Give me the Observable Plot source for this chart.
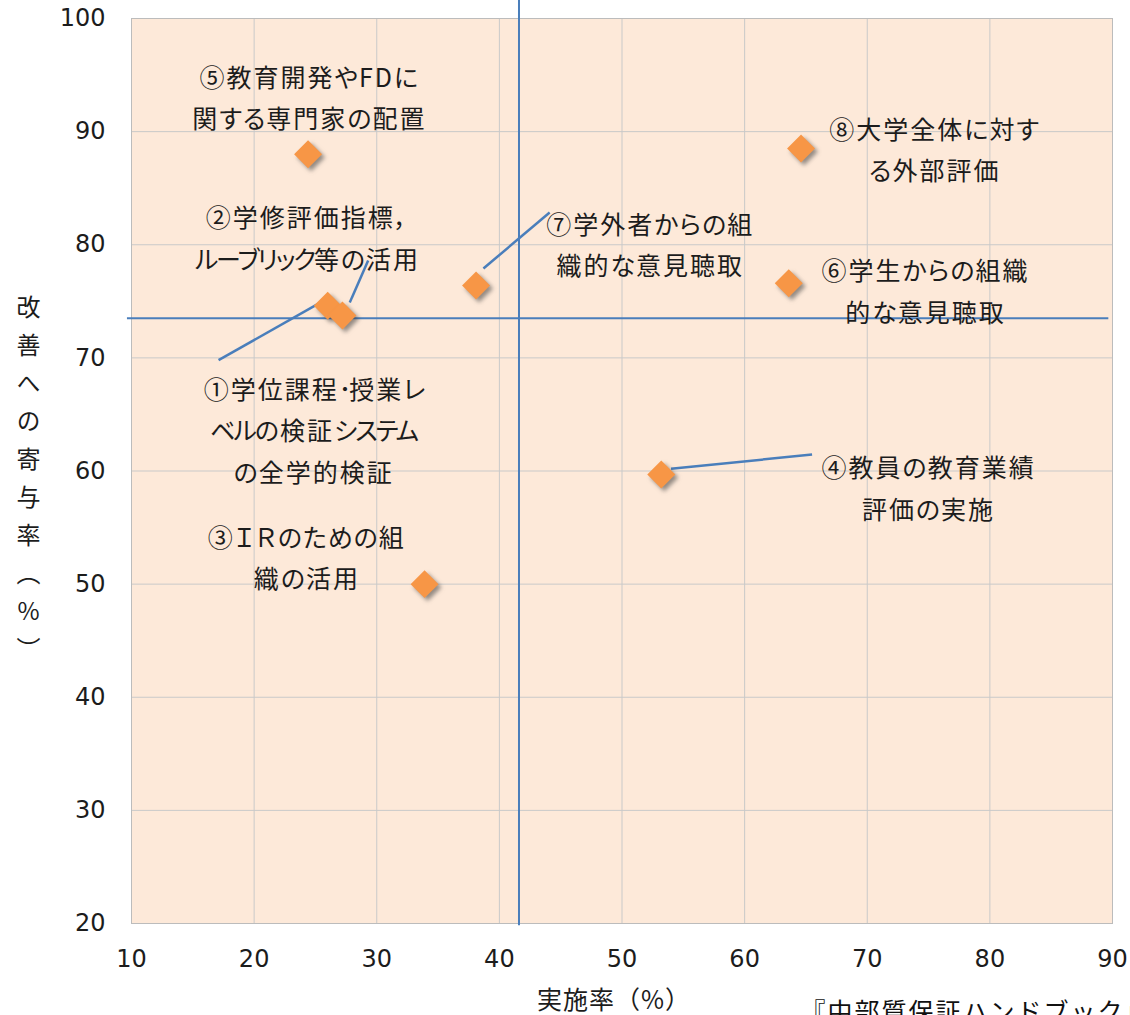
<!DOCTYPE html>
<html>
<head>
<meta charset="utf-8">
<script src="https://cdn.jsdelivr.net/npm/d3@7"></script>
<script src="https://cdn.jsdelivr.net/npm/@observablehq/plot@0.6"></script>
<style>
  body { margin: 0; background: #ffffff; overflow: hidden; }
  #chart svg { display: block; }
</style>
</head>
<body>
<div id="chart"></div>
<script>
// Measures: implementation rate (x, %) vs. contribution to improvement (y, %)
const itemIds = ["①", "②", "③", "④", "⑤", "⑥", "⑦", "⑧"];
const implementationRate = [26.0, 27.2, 33.9, 53.2, 24.4, 63.6, 38.1, 64.6];
const contributionRate   = [74.6, 73.75, 50.0, 59.7, 88.0, 76.6, 76.4, 88.5];

// Label text and the data position of each label's centre
const itemLabels = [
  "①学位課程･授業レ\nベルの検証システム\nの全学的検証",
  "②学修評価指標，\nルーブリック等の活用",
  "③ＩＲのための組\n織の活用",
  "④教員の教育業績\n評価の実施",
  "⑤教育開発やFDに\n関する専門家の配置",
  "⑥学生からの組織\n的な意見聴取",
  "⑦学外者からの組\n織的な意見聴取",
  "⑧大学全体に対す\nる外部評価"
];
const labelX = [24.85, 24.35, 24.3, 75.0, 24.5, 74.75, 52.3, 75.5];
const labelY = [63.9, 80.9, 52.65, 58.8, 93.3, 76.2, 80.3, 88.7];

// Leader lines from a label to its point
const leaderIds = ["①", "②", "⑦", "④"];
const leaderX1 = [17.1, 29.3, 44.1, 65.5];
const leaderY1 = [69.8, 78.6, 82.85, 61.45];
const leaderX2 = [25.25, 27.8, 38.7, 54.0];
const leaderY2 = [74.8, 74.9, 77.9, 60.2];

// Reference lines (average implementation / contribution)
const refX = 41.6;
const refY = 73.5;

// Axis ticks and titles
const xTicks = [10, 20, 30, 40, 50, 60, 70, 80, 90];
const yTicks = [20, 30, 40, 50, 60, 70, 80, 90, 100];
const xTitle = "実施率（%）";
const yTitle = "改善への寄与率（%）";
const caption = "『中部質保証ハンドブック』";

const points = itemIds.map((id, i) => ({id, x: implementationRate[i], y: contributionRate[i]}));
const labelRows = itemIds.map((id, i) => ({id, text: itemLabels[i], x: labelX[i], y: labelY[i]}));
const leaders = leaderIds.map((id, i) => ({id, x1: leaderX1[i], y1: leaderY1[i], x2: leaderX2[i], y2: leaderY2[i]}));

const blue = "#4a7ebb";
const orange = "#f79646";
const ink = "#1c1c1c";
const jpFont = "'Noto Sans CJK JP', 'Noto Sans', sans-serif";

const chart = Plot.plot({
  width: 1130,
  height: 1015,
  marginLeft: 131,
  marginRight: 18,
  marginTop: 18,
  marginBottom: 92,
  style: {fontFamily: "'DejaVu Sans', Verdana, sans-serif", fontSize: "24px", color: ink, background: "#ffffff"},
  x: {domain: [10, 90]},
  y: {domain: [20, 100]},
  marks: [
    Plot.frame({fill: "#fde9d9", stroke: null}),
    Plot.gridX(xTicks, {stroke: "#c9c9c9", strokeOpacity: 1}),
    Plot.gridY(yTicks, {stroke: "#c9c9c9", strokeOpacity: 1}),
    Plot.frame({stroke: "#bcbcbc"}),
    Plot.axisX({ticks: xTicks, tickSize: 0, tickPadding: 26, label: null, fontSize: 24}),
    Plot.axisY({ticks: yTicks, tickSize: 0, tickPadding: 26, label: null, fontSize: 24}),
    Plot.ruleX([refX], {y1: 19.8, y2: 101.6, stroke: blue, strokeWidth: 2}),
    Plot.ruleY([refY], {x1: 9.67, x2: 89.7, stroke: blue, strokeWidth: 2}),
    Plot.link(leaders, {x1: "x1", y1: "y1", x2: "x2", y2: "y2", stroke: blue, strokeWidth: 2.5}),
    Plot.dot(points, {x: "x", y: "y", symbol: "diamond2", r: 12.6, fill: orange, stroke: null}),
    Plot.text(labelRows, {
      x: "x", y: "y", text: "text",
      fontSize: 25, lineHeight: 1.66, lineAnchor: "middle", textAnchor: "middle",
      fill: ink, fontFamily: jpFont
    }),
    Plot.text([xTitle], {frameAnchor: "bottom", dx: -8, dy: 77, lineAnchor: "middle", fontSize: 25, fill: ink, fontFamily: jpFont}),
    Plot.text([yTitle], {frameAnchor: "left", dx: -103, dy: 6, fontSize: 24, fill: ink, fontFamily: jpFont}),
    Plot.text([caption], {frameAnchor: "bottom-left", dx: 669, dy: 89, lineAnchor: "middle", textAnchor: "start", fontSize: 25, fill: "#111111", fontFamily: jpFont})
  ]
});

// Drop shadow under the diamonds
chart.querySelectorAll('g[aria-label="dot"] path').forEach(p => {
  p.style.filter = "drop-shadow(3px 3px 2px rgba(60,60,60,0.55))";
});

// Tighter spacing for katakana runs, slightly looser for hiragana and kanji
const katakana = /[\u30a0-\u30ff\uff65-\uff9f]/;
const hiragana = /[\u3040-\u309f]/;
function spacingOf(ch) {
  if (katakana.test(ch)) return -2;
  if (hiragana.test(ch)) return 1;
  return 2;
}
function respace(node) {
  const s = node.textContent;
  node.textContent = "";
  let run = "", cur = null;
  const flush = () => {
    if (!run) return;
    const ts = document.createElementNS("http://www.w3.org/2000/svg", "tspan");
    ts.textContent = run;
    ts.style.letterSpacing = cur + "px";
    node.appendChild(ts);
    run = "";
  };
  for (const ch of s) {
    const sp = spacingOf(ch);
    if (sp !== cur) { flush(); cur = sp; }
    run += ch;
  }
  flush();
}

const cjk = /[\u3000-\u9fff\uff00-\uffef\u2460-\u2473]/;
chart.querySelectorAll("text").forEach(t => {
  const s = t.textContent;
  if (s === yTitle) {
    t.style.writingMode = "vertical-rl";
    t.style.textOrientation = "upright";
    t.style.letterSpacing = "14px";
    t.setAttribute("text-anchor", "middle");
    t.removeAttribute("dy");
  } else if (s === xTitle) {
    t.style.letterSpacing = "1px";
  } else if (s === caption) {
    t.style.letterSpacing = "2px";
  } else if (cjk.test(s)) {
    t.style.fontFeatureSettings = '"palt"';
    const lines = t.querySelectorAll("tspan");
    if (lines.length) lines.forEach(respace); else respace(t);
  }
});

document.getElementById("chart").appendChild(chart);
</script>
</body>
</html>
